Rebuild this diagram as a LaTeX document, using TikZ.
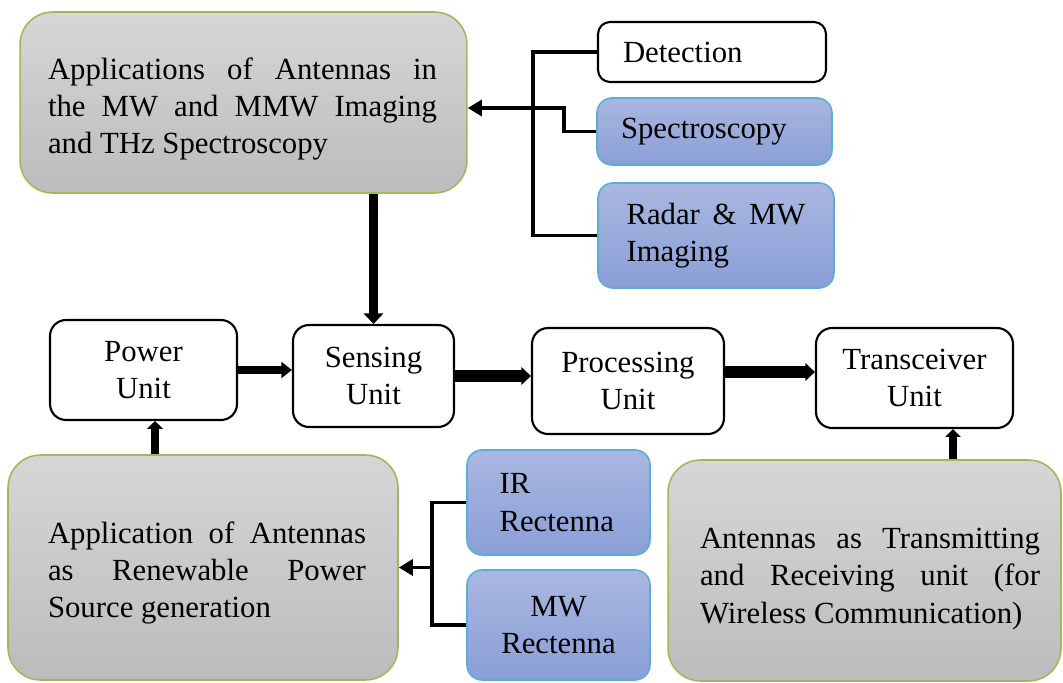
\documentclass[tikz,border=0pt]{standalone}
\usepackage{fontspec}
\setmainfont{Liberation Serif}
\usetikzlibrary{arrows.meta,calc}
\definecolor{grayT}{HTML}{D6D6D6}
\definecolor{grayB}{HTML}{BCBCBC}
\definecolor{grnB}{HTML}{9BBB59}
\definecolor{bluT}{HTML}{A9B7E0}
\definecolor{bluB}{HTML}{8A9FD7}
\definecolor{bluD}{HTML}{5AAFD0}
\begin{document}
\begin{tikzpicture}[x=0.02cm,y=-0.02cm,
  every node/.style={font=\fontsize{17.5}{21.3}\selectfont, inner sep=0pt},
  appbox/.style={draw=grnB, line width=0.9pt, rounded corners=0.65cm, top color=grayT, bottom color=grayB},
  txt/.style={align=justify},
  unitbox/.style={draw=black, line width=1.2pt, rounded corners=0.32cm, fill=white, align=center},
  whitebox/.style={draw=black, line width=1.2pt, rounded corners=0.24cm, fill=white},
  bluebox/.style={draw=bluD, line width=0.9pt, rounded corners=0.3cm, top color=bluT, bottom color=bluB},
  conn/.style={line width=2pt},
  thinarrow/.style={conn, -{Triangle[length=8pt,width=9pt]}},
  fatarrow/.style={line width=#1, -{Triangle[length=5.5pt,width=10pt]}}
]
\useasboundingbox (0,0) rectangle (1063,683);

% top application box
\node[appbox, minimum width=8.94cm, minimum height=3.62cm] (app) at (243.5,102.5) {};
\node[txt, text width=7.78cm] (appT) at (242.5,109) {Applications of Antennas in\linebreak the MW and MMW Imaging\linebreak and THz Spectroscopy};

% top-right boxes
\node[whitebox, text width=3.56cm, minimum width=4.56cm, minimum height=1.2cm, align=left] (det) at (712,52) {Detection};
\node[bluebox, text width=3.74cm, minimum width=4.7cm, minimum height=1.34cm, align=left] (spec) at (714.5,131.5) {Spectroscopy};
\node[bluebox, text width=3.58cm, minimum width=4.72cm, minimum height=2.1cm, align=justify] (rad) at (716,235.5) {Radar \& MW\linebreak Imaging};

% unit boxes
\node[unitbox, minimum width=3.74cm, minimum height=2cm] (pow) at (143.5,370) {Power\\Unit};
\node[unitbox, minimum width=3.22cm, minimum height=2.04cm] (sens) at (373.5,376) {Sensing\\Unit};
\node[unitbox, minimum width=3.84cm, minimum height=2.12cm] (proc) at (628,381) {Processing\\Unit};
\node[unitbox, minimum width=3.94cm, minimum height=2cm] (trx) at (914.5,378) {Transceiver\\Unit};

% bottom boxes
\node[appbox, minimum width=7.8cm, minimum height=4.5cm] (ren) at (203,567.5) {};
\node[txt, text width=6.36cm] (renT) at (207,573) {Application of Antennas\linebreak as Renewable Power\linebreak Source generation};
\node[bluebox, text width=2.36cm, minimum width=3.66cm, minimum height=2.1cm, align=left] (ir) at (558.5,502.5) {IR\\Rectenna};
\node[bluebox, text width=2.36cm, minimum width=3.66cm, minimum height=2.2cm, align=center] (mw) at (558.5,625) {MW\\Rectenna};
\node[appbox, minimum width=7.86cm, minimum height=4.42cm] (tx) at (864.5,570.5) {};
\node[txt, text width=6.8cm] (txT) at (870,579) {Antennas as Transmitting\linebreak and Receiving unit (for\linebreak Wireless Communication)};

% top-right connectors
\coordinate (busA) at (533,0);
\coordinate (jog) at (564,108);
\draw[conn] (det.west) -- (det.west -| busA) -- (rad.west -| busA) -- (rad.west);
\draw[thinarrow] (spec.west) -- (spec.west -| jog) -- (jog) -- (app.east |- jog);

% main chain
\draw[fatarrow=5pt, -{Triangle[length=6pt,width=11pt]}] (app.south -| sens.north) -- (sens.north);
\draw[fatarrow=4.5pt, -{Triangle[length=6pt,width=9pt]}] (pow.east) -- (sens.west |- pow.east);
\draw[fatarrow=6.5pt] (sens.east) -- (proc.west |- sens.east);
\coordinate (yPT) at (0,372);
\draw[fatarrow=6.5pt] (proc.east |- yPT) -- (trx.west |- yPT);

% up arrows
\coordinate (xP) at (155,0);
\draw[fatarrow=4.5pt, -{Triangle[length=4.5pt,width=9pt]}] (ren.north -| xP) -- (pow.south -| xP);
\coordinate (xT) at (953,0);
\draw[fatarrow=5pt, -{Triangle[length=4.5pt,width=8.5pt]}] (tx.north -| xT) -- (trx.south -| xT);

% bottom connectors
\coordinate (busB) at (432,0);
\draw[conn] (ir.west) -- (ir.west -| busB) -- (mw.west -| busB) -- (mw.west);
\draw[thinarrow] (busB |- ren.east) -- (ren.east);
\end{tikzpicture}
\end{document}
